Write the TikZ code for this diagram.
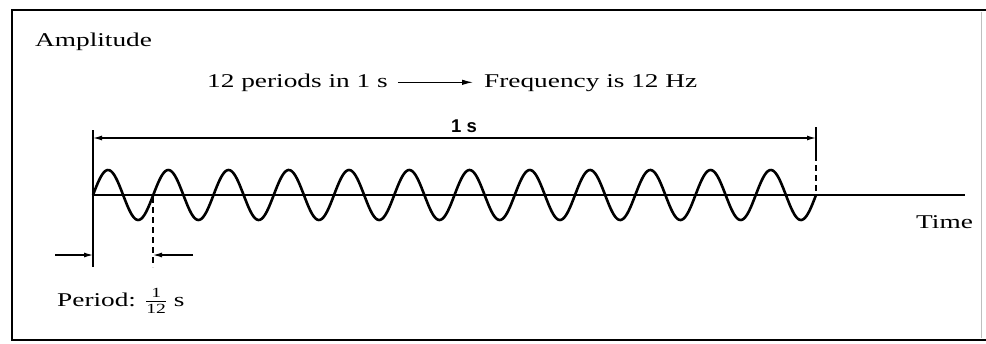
\documentclass[tikz,border=0pt]{standalone}
\usepackage{fontspec}
\setmainfont[FakeStretch=1.4]{Liberation Serif}
\newfontfamily\dimfont{Liberation Sans}
\usetikzlibrary{arrows.meta}
\begin{document}
\begin{tikzpicture}[x=1pt,y=-1pt,
  lbl/.style={inner sep=0pt, font=\fontsize{19.5}{22}\selectfont},
  dimarrow/.style={-{Latex[length=9pt,width=5pt]}, line width=1.1pt},
  thinline/.style={line width=1.2pt},
  dashline/.style={line width=1.2pt, dash pattern=on 6pt off 4pt},
  wave/.style={line width=2.6pt, line join=round}]
\useasboundingbox (0,0) rectangle (986,343);
\fill[white] (0,0) rectangle (986,343);
% frame
\draw[line width=1.3pt] (986,10) -- (12,10) -- (12,340) -- (986,340);
\draw[line width=0.8pt, black!25] (981,12) -- (981,338);
% labels
\node[lbl, anchor=base west] (amp) at (35,46) {Amplitude};
\node[lbl, anchor=base west] (per12) at (207,87) {12 periods in 1 s};
\node[lbl, anchor=base west] (freq) at (484,87) {Frequency is 12 Hz};
\node[inner sep=0pt, anchor=base, font=\dimfont\bfseries\fontsize{18.5}{20}\selectfont] (ones) at (464,132) {1 s};
\node[lbl, anchor=base west] (time) at (916,228) {Time};
\node[lbl, anchor=base west] (period) at (57,306) {Period: $\frac{\mbox{\fontsize{14}{14}\selectfont 1}}{\mbox{\fontsize{14}{14}\selectfont 12}}$ s};
% arrow between texts
\draw[-{Latex[length=11pt,width=5.5pt]}, line width=1.1pt, shorten <=10pt, shorten >=11pt] (per12.east) -- (per12.east -| freq.west);
% coordinates
\coordinate (l0) at (93,130);
\coordinate (l1) at (93,267);
\coordinate (r0) at (816,127);
\coordinate (r1) at (816,155);
\coordinate (r2) at (816,195);
\coordinate (dL) at (93,138);
\coordinate (dR) at (816,138);
\coordinate (ax0) at (93,195);
\coordinate (ax1) at (965,195);
\coordinate (p0) at (153,197);
\coordinate (p1) at (153,267);
\coordinate (aL0) at (55,255);
\coordinate (aL1) at (93,255);
\coordinate (aR0) at (193,255);
\coordinate (aR1) at (153,255);
% guide lines
\draw[thinline] (l0) -- (l1);
\draw[thinline] (r0) -- (r1);
\draw[dashline] (r1) -- (r2);
\draw[dashline] (p0) -- (p1);
% dimension 1 s
\draw[{Latex[length=9pt,width=5pt]}-{Latex[length=9pt,width=5pt]}, line width=1.3pt] (dL) -- (dR);
% axis
\draw[thinline] (ax0) -- (ax1);
% wave
\draw[wave] plot[domain=0:723, samples=600] ({93+\x},{195-25*sin(\x*5.97510)});
% period arrows
\draw[dimarrow] (aL0) -- (aL1);
\draw[dimarrow] (aR0) -- (aR1);
\end{tikzpicture}
\end{document}
